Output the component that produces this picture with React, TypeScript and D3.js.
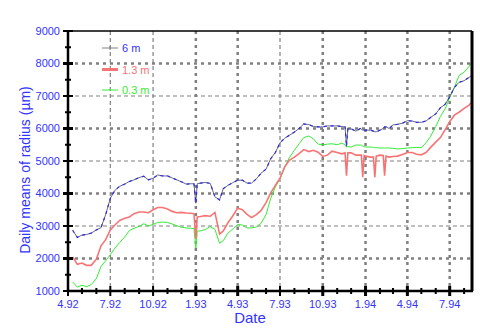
import React from "react";
import * as d3 from "d3";

// dekad sampling dates (plus extra days around the short dips)
const dates = [
  "1992-04-11", "1992-04-21", "1992-05-01", "1992-05-11", "1992-05-21", "1992-06-01", "1992-06-11", "1992-06-21",
  "1992-07-01", "1992-07-11", "1992-07-21", "1992-08-01", "1992-08-11", "1992-08-21", "1992-09-01", "1992-09-11",
  "1992-09-21", "1992-10-01", "1992-10-11", "1992-10-21", "1992-11-01", "1992-11-11", "1992-11-21", "1992-12-01",
  "1992-12-11", "1992-12-21", "1992-12-28", "1993-01-01", "1993-01-04", "1993-01-11", "1993-01-21", "1993-02-01",
  "1993-02-11", "1993-02-21", "1993-03-01", "1993-03-11", "1993-03-21", "1993-04-01", "1993-04-11", "1993-04-21",
  "1993-05-01", "1993-05-11", "1993-05-21", "1993-06-01", "1993-06-11", "1993-06-21", "1993-07-01", "1993-07-11",
  "1993-07-21", "1993-08-01", "1993-08-11", "1993-08-21", "1993-09-01", "1993-09-11", "1993-09-21", "1993-10-01",
  "1993-10-11", "1993-10-21", "1993-11-01", "1993-11-11", "1993-11-18", "1993-11-21", "1993-11-24", "1993-12-01",
  "1993-12-11", "1993-12-21", "1993-12-23", "1993-12-26", "1993-12-29", "1994-01-01", "1994-01-11", "1994-01-18",
  "1994-01-21", "1994-01-24", "1994-02-01", "1994-02-08", "1994-02-11", "1994-02-14", "1994-02-21", "1994-03-01",
  "1994-03-11", "1994-03-21", "1994-04-01", "1994-04-11", "1994-04-21", "1994-05-01", "1994-05-11", "1994-05-21",
  "1994-06-01", "1994-06-11", "1994-06-21", "1994-07-01", "1994-07-11", "1994-07-21", "1994-08-01", "1994-08-11",
  "1994-08-17",
];

const h6m = [
  2870, 2650, 2720, 2740, 2780, 2880, 2950, 3350,
  3850, 4100, 4220, 4290, 4370, 4420, 4490, 4530,
  4420, 4470, 4570, 4540, 4540, 4480, 4420, 4360,
  4290, 4300, 4300, 3700, 4300, 4320, 4340, 4310,
  3900, 3800, 4150, 4250, 4330, 4410, 4410, 4320,
  4320, 4450, 4620, 4750, 5070, 5260, 5560, 5700,
  5790, 5890, 6000, 6140, 6120, 6060, 6050, 6050,
  6080, 6080, 6080, 6060, 6050, 5450, 6000, 5990,
  5920, 6000, 5980, 5950, 5950, 5950, 5950, 5920,
  5900, 5900, 5950, 6000, 6050, 6050, 6000, 6110,
  6130, 6160, 6240, 6230, 6190, 6190, 6230, 6340,
  6450, 6640, 6740, 6980, 7260, 7420, 7470, 7570,
  7620,
];

const h13m = [
  2050, 1820, 1860, 1790, 1790, 1980, 2390, 2580,
  2880, 3030, 3170, 3240, 3280, 3380, 3430, 3430,
  3410, 3500, 3570, 3570, 3520, 3450, 3410, 3420,
  3400, 3390, 3380, 2600, 3280, 3290, 3320, 3300,
  3420, 2750, 2850, 3100, 3300, 3550, 3500, 3360,
  3260, 3350, 3470, 3720, 4020, 4250, 4470, 4820,
  5020, 5120, 5230, 5350, 5290, 5330, 5270, 5140,
  5180, 5300, 5260, 5220, 5250, 4550, 5250, 5250,
  5180, 5180, 5180, 4500, 5170, 5150, 5120, 5120,
  4500, 5150, 5180, 5170, 4550, 5150, 5120, 5140,
  5150, 5200, 5260, 5260, 5210, 5190, 5260, 5420,
  5580, 5720, 5960, 6210, 6410, 6500, 6620, 6710,
  6800,
];

const h03m = [
  1280, 1120, 1180, 1130, 1200, 1380, 1760, 1930,
  2120, 2320, 2490, 2660, 2860, 2930, 2990, 3070,
  3000, 3050, 3110, 3120, 3110, 3060, 3010, 2960,
  2940, 2930, 2920, 2320, 2840, 2850, 2890, 2980,
  2900, 2470, 2550, 2780, 2900, 3050, 3030, 2940,
  2940, 2970, 3080, 3350, 3850, 4200, 4450, 4800,
  5100, 5330, 5530, 5720, 5770, 5680, 5520, 5490,
  5520, 5530, 5500, 5550, 5500, 5430, 5440, 5430,
  5490, 5490, 5490, 5460, 5440, 5430, 5430, 5420,
  5410, 5410, 5400, 5400, 5400, 5400, 5400, 5390,
  5370, 5380, 5400, 5410, 5420, 5410, 5560, 5760,
  6060, 6370, 6600, 6950, 7260, 7630, 7730, 7900,
  8020,
];

const seriesNames = ["6 m", "1.3 m", "0.3 m"];
const yTicks = [1000, 2000, 3000, 4000, 5000, 6000, 7000, 8000, 9000];
// quarters drawn with the heavy dotted grid
const heavyQuarters = ["1993-01-01", "1993-04-01", "1993-10-01", "1994-01-01", "1994-04-01", "1994-07-01"];

const BLUE = "#3333ff";
const RED = "#f87474";
const GREEN = "#33ee33";
const GRAY = "#808080";
const FONT = "'Liberation Sans', Arial, sans-serif";

export default function App() {
  const W = 480, H = 336;
  const left = 68, right = 472, top = 31, bottom = 291;
  const parse = d3.timeParse("%Y-%m-%d");

  const x = d3.scaleTime()
    .domain([parse("1992-04-01")!, parse("1994-08-18")!])
    .range([left, right]);
  const y = d3.scaleLinear().domain([1000, 9000]).range([bottom, top]);

  const dd = dates.map((s) => parse(s)!);
  const line = (vals: number[]) =>
    d3.line<number>().x((_, i) => x(dd[i])).y((v) => y(v))(vals) || "";

  const months = d3.timeMonth.range(parse("1992-04-01")!, parse("1994-08-18")!);
  const quarters = months.filter((m) => m.getMonth() % 3 === 0);
  const heavy = new Set(heavyQuarters);
  const fmtKey = d3.timeFormat("%Y-%m-%d");
  const fmtLabel = d3.timeFormat("%-m.%y");
  const minorY = d3.range(1500, 9000, 1000);

  return (
    <svg width={W} height={H} style={{ position: "absolute", left: 0, top: 0, background: "#fff" }}
      fontFamily={FONT}>
      {/* grid */}
      {yTicks.slice(1, -1).map((t) => {
        const even = t % 2000 === 0;
        return (
          <line key={"gy" + t} x1={left} x2={right} y1={y(t)} y2={y(t)} stroke={GRAY}
            strokeWidth={even ? 2.5 : 1.2} strokeDasharray={even ? "3,4" : "4,3"} />
        );
      })}
      {quarters.slice(1).map((q) => {
        const h = heavy.has(fmtKey(q));
        return (
          <line key={"gx" + q.getTime()} x1={x(q)} x2={x(q)} y1={top} y2={bottom} stroke={GRAY}
            strokeWidth={h ? 2.5 : 1.2} strokeDasharray={h ? "3,4" : "4,3"} />
        );
      })}

      {/* series */}
      <path d={line(h03m)} fill="none" stroke={GREEN} strokeWidth={1} />
      <path d={line(h13m)} fill="none" stroke={RED} strokeWidth={1.6} />
      <path d={line(h6m)} fill="none" stroke="#6a6a80" strokeWidth={1} />
      <path d={line(h6m)} fill="none" stroke="#2a2af0" strokeWidth={1.2} strokeDasharray="3,4" />

      {/* frame */}
      <line x1={left} x2={right} y1={top} y2={top} stroke="#000" strokeWidth={1.5} />
      <line x1={right} x2={right} y1={top} y2={bottom} stroke="#000" strokeWidth={3} />
      <line x1={left} x2={left} y1={top} y2={bottom + 1} stroke="#000" strokeWidth={2.5} />
      <line x1={left - 1} x2={right + 1} y1={bottom} y2={bottom} stroke="#000" strokeWidth={2.5} />

      {/* y ticks */}
      {yTicks.map((t) => (
        <g key={"yt" + t}>
          <line x1={left - 5} x2={left + 5} y1={y(t)} y2={y(t)} stroke="#000"
            strokeWidth={t % 2000 === 0 ? 3 : 2} />
          <text x={left - 8} y={y(t)} dy="0.36em" textAnchor="end" fontSize={11} fill={BLUE}>{t}</text>
        </g>
      ))}
      {minorY.map((t) => (
        <line key={"ym" + t} x1={left - 3} x2={left + 3} y1={y(t)} y2={y(t)} stroke="#000" strokeWidth={2} />
      ))}

      {/* x ticks */}
      {months.map((m) => {
        const q = m.getMonth() % 3 === 0;
        const h = heavy.has(fmtKey(m));
        return (
          <line key={"xt" + m.getTime()} x1={x(m)} x2={x(m)} y1={bottom - (q ? 5 : 3)} y2={bottom + (q ? 5 : 3)}
            stroke="#000" strokeWidth={h ? 3 : 2} />
        );
      })}
      {quarters.map((q) => (
        <text key={"xl" + q.getTime()} x={x(q)} y={308} textAnchor="middle" fontSize={11} fill={BLUE}>
          {fmtLabel(q)}
        </text>
      ))}

      {/* axis titles */}
      <text x={250} y={323} textAnchor="middle" fontSize={15} fill={BLUE}>Date</text>
      <text transform="translate(30,170) rotate(-90)" textAnchor="middle" fontSize={14} fill={BLUE}>
        Daily means of radius (µm)
      </text>

      {/* legend */}
      <g>
        <line x1={102} x2={118} y1={48} y2={48} stroke={GRAY} strokeWidth={1} />
        <line x1={110} x2={110} y1={46} y2={50} stroke={GRAY} strokeWidth={1} />
        <text x={122} y={52} fontSize={11} fill={BLUE}>{seriesNames[0]}</text>
        <line x1={102} x2={118} y1={69.5} y2={69.5} stroke={RED} strokeWidth={3} />
        <text x={122} y={73.5} fontSize={11} fill={RED}>{seriesNames[1]}</text>
        <line x1={102} x2={118} y1={90} y2={90} stroke={GREEN} strokeWidth={1} />
        <text x={122} y={94} fontSize={11} fill={GREEN}>{seriesNames[2]}</text>
      </g>
    </svg>
  );
}
